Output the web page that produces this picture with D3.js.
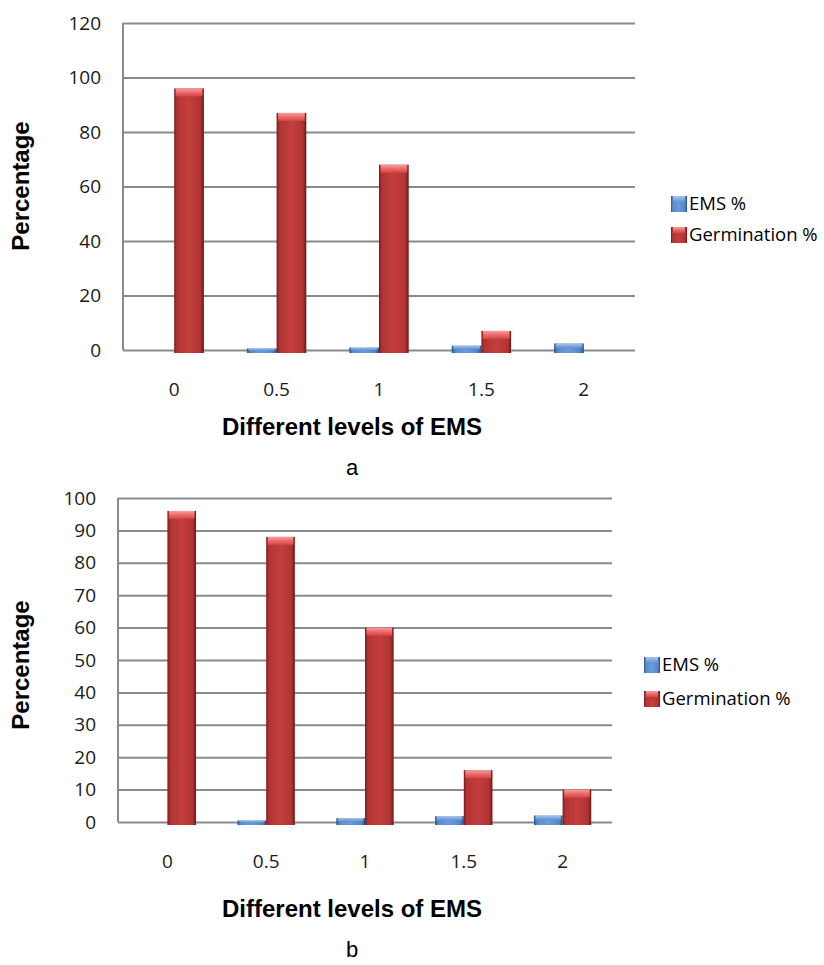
<!DOCTYPE html>
<html>
<head>
<meta charset="utf-8">
<script src="https://cdn.jsdelivr.net/npm/d3@7"></script>
<style>
  body { margin: 0; background: #fff; }
  svg { display: block; }
  .tick text { font-family: "Open Sans", sans-serif; font-size: 19px; fill: #1a1a1a; }
  .axis-title { font-family: "Liberation Sans", Arial, sans-serif; font-weight: bold; font-size: 24px; fill: #000; }
  .panel-tag { font-family: "Liberation Sans", Arial, sans-serif; font-size: 22px; fill: #000; }
  .legend text { font-family: "Open Sans", sans-serif; font-size: 18.5px; fill: #000; }
</style>
</head>
<body>
<svg id="chart" width="824" height="965"></svg>
<script>
// --- data ---
const categories = ["0", "0.5", "1", "1.5", "2"];
const seriesNames = ["EMS %", "Germination %"];

const emsA = [0, 0.6, 0.9, 1.6, 2.4];
const germA = [96, 87, 68, 7, 0];
const ticksA = [0, 20, 40, 60, 80, 100, 120];

const emsB = [0, 0.5, 1.2, 1.8, 2];
const germB = [96, 88, 60, 16, 10];
const ticksB = [0, 10, 20, 30, 40, 50, 60, 70, 80, 90, 100];

const svg = d3.select("#chart");
const defs = svg.append("defs");

// bevel-ish gradients like the excel 3d columns
function hGrad(id, stops) {
    const g = defs.append("linearGradient").attr("id", id)
        .attr("x1", "0%").attr("x2", "100%").attr("y1", "0%").attr("y2", "0%");
    stops.forEach(s => g.append("stop").attr("offset", s[0]).attr("stop-color", s[1]));
}
function vGrad(id, stops) {
    const g = defs.append("linearGradient").attr("id", id)
        .attr("x1", "0%").attr("x2", "0%").attr("y1", "0%").attr("y2", "100%");
    stops.forEach(s => g.append("stop").attr("offset", s[0]).attr("stop-color", s[1]));
}
hGrad("redBody", [["0%", "#7a1a1a"], ["10%", "#b23434"], ["50%", "#c43e3e"], ["88%", "#b13333"], ["100%", "#6e1616"]]);
vGrad("redCap", [["0%", "#f4a0a0"], ["45%", "#ee6e6e"], ["100%", "#d24646"]]);
hGrad("blueBody", [["0%", "#2a5288"], ["12%", "#5a8ccc"], ["50%", "#6b9bd8"], ["88%", "#5586c4"], ["100%", "#244a7c"]]);
vGrad("blueCap", [["0%", "#a9c6ec"], ["100%", "#5f93d6"]]);

const colors = {
    body: ["url(#blueBody)", "url(#redBody)"],
    cap: ["url(#blueCap)", "url(#redCap)"]
};

function drawPanel(cfg) {
    const g = svg.append("g");
    const x = d3.scaleBand().domain(categories).range([cfg.x0, cfg.x1]);
    const y = d3.scaleLinear().domain([0, d3.max(cfg.ticks)]).range([cfg.yBase, cfg.yTop]);
    const plotW = cfg.x1 - cfg.x0;

    // gridlines + y labels
    const yAxis = d3.axisLeft(y).tickValues(cfg.ticks).tickSize(-plotW).tickPadding(22).tickFormat(d3.format("d"));
    const ya = g.append("g").attr("transform", `translate(${cfg.x0},0)`).call(yAxis);
    ya.select(".domain").remove();
    ya.selectAll(".tick line").attr("stroke", "#8a8a8a").attr("stroke-width", 2);

    // vertical axis line
    g.append("line")
        .attr("x1", cfg.x0).attr("x2", cfg.x0)
        .attr("y1", y(d3.max(cfg.ticks))).attr("y2", y(0))
        .attr("stroke", "#8a8a8a").attr("stroke-width", 2);

    // x labels
    const xAxis = d3.axisBottom(x).tickSize(0).tickPadding(33);
    const xa = g.append("g").attr("transform", `translate(0,${y(0)})`).call(xAxis);
    xa.select(".domain").remove();

    // bars
    const bw = x.bandwidth() * 0.29;
    const series = [cfg.ems, cfg.germ];
    series.forEach((vals, si) => {
        const bars = g.append("g");
        vals.forEach((v, i) => {
            if (v <= 0) return;
            const cx = x(categories[i]) + x.bandwidth() / 2;
            const bx = si === 0 ? cx - bw : cx;
            const top = y(v);
            const bottom = y(0) + 3;
            bars.append("rect")
                .attr("x", bx).attr("y", top)
                .attr("width", bw).attr("height", bottom - top)
                .attr("fill", colors.body[si]);
            const capH = Math.min(8, (bottom - top) * 0.45);
            bars.append("rect")
                .attr("x", bx + 1.5).attr("y", top)
                .attr("width", bw - 3).attr("height", capH)
                .attr("fill", colors.cap[si]);
        });
    });

    // axis titles
    g.append("text").attr("class", "axis-title")
        .attr("transform", `translate(${cfg.yTitleX},${cfg.yTitleY}) rotate(-90)`)
        .attr("text-anchor", "middle").text("Percentage");
    g.append("text").attr("class", "axis-title")
        .attr("x", cfg.titleX).attr("y", cfg.xTitleY)
        .attr("text-anchor", "middle").text("Different levels of EMS");
    g.append("text").attr("class", "panel-tag")
        .attr("x", cfg.titleX).attr("y", cfg.tagY)
        .attr("text-anchor", "middle").text(cfg.tag);

    // legend
    const lg = g.append("g").attr("class", "legend");
    seriesNames.forEach((name, si) => {
        const ly = cfg.legY[si];
        lg.append("rect").attr("x", cfg.legX).attr("y", ly - 8)
            .attr("width", 16).attr("height", 16).attr("fill", colors.body[si]);
        lg.append("rect").attr("x", cfg.legX + 2).attr("y", ly - 8)
            .attr("width", 12).attr("height", 6).attr("fill", colors.cap[si]);
        lg.append("text").attr("x", cfg.legX + 18).attr("y", ly)
            .attr("dy", "0.35em").text(name);
    });
}

drawPanel({
    ems: emsA, germ: germA, ticks: ticksA,
    x0: 123, x1: 635, yBase: 350, yTop: 23,
    yTitleX: 29, yTitleY: 186, titleX: 352, xTitleY: 435, tagY: 475, tag: "a",
    legX: 671, legY: [204, 235]
});

drawPanel({
    ems: emsB, germ: germB, ticks: ticksB,
    x0: 118, x1: 612, yBase: 822, yTop: 498,
    yTitleX: 29, yTitleY: 665, titleX: 352, xTitleY: 917, tagY: 957, tag: "b",
    legX: 644, legY: [665, 699]
});
</script>
</body>
</html>
